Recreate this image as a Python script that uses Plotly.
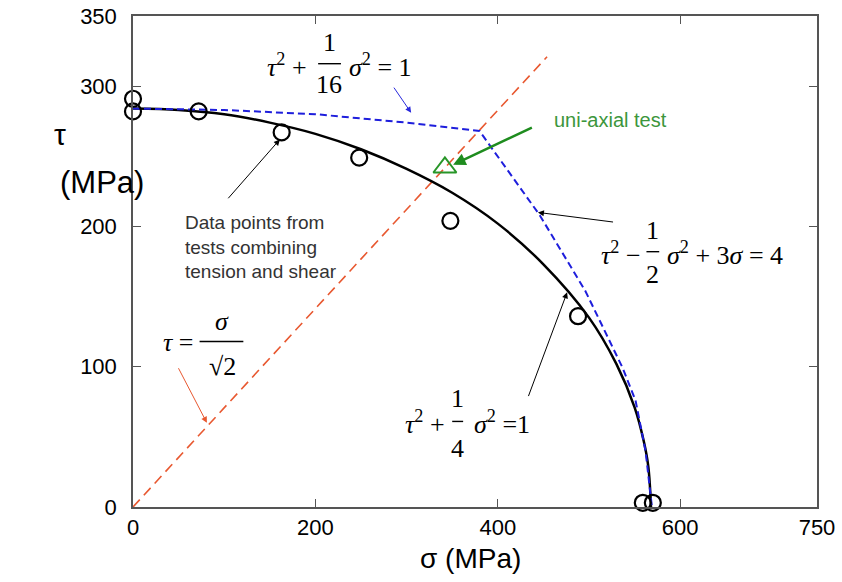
import plotly.graph_objects as go

# ---- data ----
sigma_pts = [0, 0, 72, 163, 248, 348, 488, 559, 570]
tau_pts = [291, 282, 282, 267, 249, 204, 136, 3, 3]

sigma_ell = [0, 50, 100, 150, 200, 250, 300, 350, 400, 450, 500, 530, 550, 560, 565, 568]
tau_ell = [284, 283, 280, 274, 266, 255, 241, 224, 202, 173, 135, 102, 71, 47, 29, 0]

sigma_blue = [0, 100, 200, 300, 380, 400, 446, 496, 537, 551, 562, 569]
tau_blue = [284, 283, 280, 274, 268, 250, 208, 154, 99, 76, 40, 0]

sigma_red = [0, 454]
tau_red = [0, 321]

sigma_uni = [342]
tau_uni = [242]

x_ticks = [0, 200, 400, 600, 750]
y_ticks = [0, 100, 200, 300, 350]

SERIF = "Liberation Serif"
SANS = "Liberation Sans"

fig = go.Figure()
fig.add_trace(go.Scatter(x=sigma_red, y=tau_red, mode="lines",
                         line=dict(color="rgb(232,88,48)", width=1.6, dash="10px,6px"),
                         showlegend=False))
fig.add_trace(go.Scatter(x=sigma_ell, y=tau_ell, mode="lines", line_shape="spline",
                         line=dict(color="black", width=2.5), showlegend=False))
fig.add_trace(go.Scatter(x=sigma_blue, y=tau_blue, mode="lines",
                         line=dict(color="rgb(30,30,220)", width=2, dash="7px,4px"),
                         showlegend=False))
fig.add_trace(go.Scatter(x=sigma_pts, y=tau_pts, mode="markers",
                         marker=dict(symbol="circle-open", size=16, color="black",
                                     line=dict(width=2.2, color="black")),
                         cliponaxis=False, showlegend=False))
fig.add_trace(go.Scatter(x=sigma_uni, y=tau_uni, mode="markers",
                         marker=dict(symbol="triangle-up-open", size=20, color="rgb(40,150,40)",
                                     line=dict(width=2, color="rgb(40,150,40)")),
                         showlegend=False))

anns = []
shapes = []

def txt(x, y, text, size=26, xanchor="center", color="black", font=SERIF, yanchor="middle", align="center"):
    anns.append(dict(x=x, y=y, xref="x", yref="y", text=text, showarrow=False,
                     xanchor=xanchor, yanchor=yanchor, align=align,
                     font=dict(family=font, size=size, color=color)))

def frac(xc, yb, num, den, x0, x1, ytop, ybot, size=26):
    txt(xc, ytop, num, size)
    txt(xc, ybot, den, size)
    shapes.append(dict(type="line", xref="x", yref="y", x0=x0, x1=x1, y0=yb, y1=yb,
                       line=dict(color="black", width=1.4)))

def arrow(hx, hy, tx, ty, color="black", width=1, size=1.2):
    anns.append(dict(x=hx, y=hy, ax=tx, ay=ty, xref="x", yref="y", axref="x", ayref="y",
                     text="", showarrow=True, arrowhead=2, arrowsize=size,
                     arrowwidth=width, arrowcolor=color))

T = "<i>τ</i><sup>2</sup>"
S = "<i>σ</i><sup>2</sup>"

# equation 1 (top)
txt(193, 315, T + " +", xanchor="right")
frac(215, 316, "1", "16", 203, 228, 331, 301)
txt(235, 315, S + " = 1", xanchor="left")
arrow(305, 281, 285, 300, color="rgb(40,40,220)")

# equation 2 (right)
txt(559, 181, T + " −", xanchor="right")
frac(570, 182, "1", "2", 563, 577, 197, 166)
txt(583, 181, S + " + 3<i>σ</i> = 4", xanchor="left")
arrow(444, 210, 528, 203)

# equation 3 (left, bottom)
txt(68, 117, "<i>τ</i> =", xanchor="right")
frac(98, 118, "<i>σ</i>", "√2", 73, 121, 132, 100)
arrow(81, 60, 49, 100, color="rgb(232,88,48)")

# equation 4 (bottom middle)
txt(344, 60, T + " +", xanchor="right")
frac(356, 61, "1", "4", 350, 362, 77, 42)
txt(372, 60, S + " =1", xanchor="left")
arrow(476, 153, 433, 78)

# data points label
txt(55, 185, "Data points from<br>tests combining<br>tension and shear", size=19,
    xanchor="left", color="#333333", font=SANS, align="left")
arrow(161, 262, 103, 219)

# uni-axial label
txt(459, 276, "uni-axial test", size=20, xanchor="left", color="rgb(60,150,60)", font=SANS)
arrow(351, 244, 439, 271, color="rgb(30,140,30)", width=2.5, size=1)

# axis titles
anns.append(dict(x=-0.118, y=0.758, xref="paper", yref="paper", text="τ", showarrow=False,
                 yshift=19, font=dict(family=SANS, size=30, color="black")))
anns.append(dict(x=-0.11, y=0.66, xref="paper", yref="paper", text="(MPa)", showarrow=False,
                 font=dict(family=SANS, size=31, color="black")))
anns.append(dict(x=0.4927, y=-0.07, xref="paper", yref="paper", text="σ (MPa)", showarrow=False,
                 yanchor="top", font=dict(family=SANS, size=28, color="black")))

axis_common = dict(showgrid=False, zeroline=False, showline=True, linecolor="#555555",
                   linewidth=1.5, mirror="ticks", ticks="inside", ticklen=8,
                   tickcolor="#555555", tickwidth=1.2, automargin=False,
                   tickfont=dict(family=SANS, size=22, color="black"))

fig.update_layout(
    width=842, height=582,
    margin=dict(l=133, r=25, t=16, b=75),
    paper_bgcolor="white", plot_bgcolor="white",
    xaxis=dict(range=[0, 750], tickvals=x_ticks, ticktext=[str(v) for v in x_ticks], **axis_common),
    yaxis=dict(range=[0, 350], tickvals=y_ticks, ticktext=[str(v) for v in y_ticks],
               ticklabelstandoff=10, **axis_common),
    annotations=anns, shapes=shapes,
)

fig.write_html("out.html")
